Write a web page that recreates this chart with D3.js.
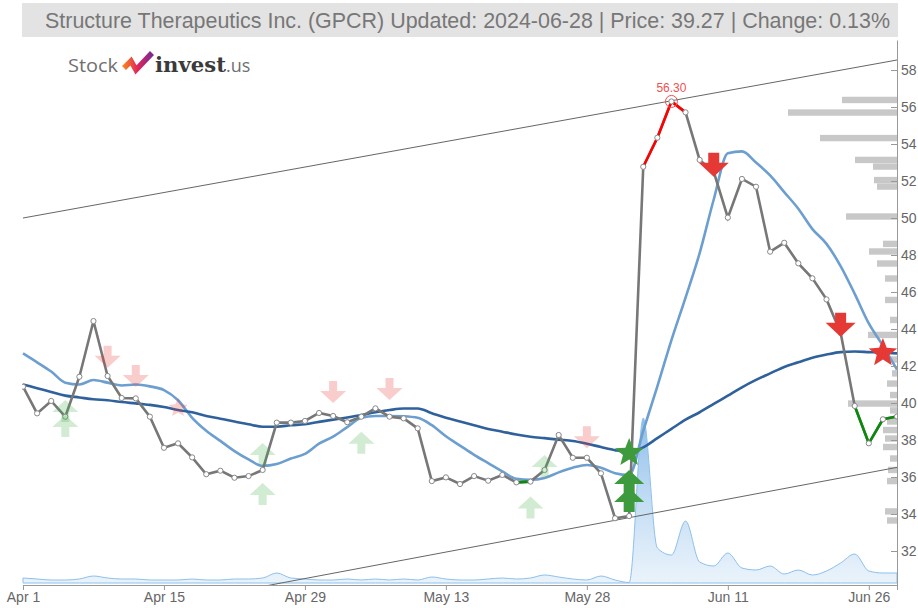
<!DOCTYPE html>
<html>
<head>
<meta charset="utf-8">
<script src="https://cdn.jsdelivr.net/npm/d3@7"></script>
<style>
  html, body { margin: 0; padding: 0; background: #fff; }
  svg { display: block; font-family: "Liberation Sans", Arial, sans-serif; }
  .axis path, .axis line { stroke: #999; }
  .axis text { fill: #666; font-size: 14px; }
</style>
</head>
<body>
<div id="chart"></div>
<script>
// GPCR daily chart, Apr 1 - Jun 28 2024 (trading days)

const tickIdx = [0, 10, 20, 30, 40, 50, 60];
const tickLabels = ["Apr 1", "Apr 15", "Apr 29", "May 13", "May 28", "Jun 11", "Jun 26"];

const close = [
  40.88, 39.44, 40.11, 39.26, 41.42, 44.43, 41.46, 40.27, 40.25, 39.26,
  37.58, 37.82, 37.06, 36.15, 36.34, 35.96, 36.05, 36.38, 38.94, 38.94,
  39.03, 39.46, 39.30, 38.96, 39.26, 39.71, 39.26, 39.17, 38.63, 35.78,
  35.98, 35.62, 36.05, 35.80, 36.11, 35.71, 35.75, 36.38, 38.27, 37.04,
  37.04, 36.20, 33.77, 33.89, 52.77, 54.34, 56.30, 55.71, 53.14, 52.50,
  50.02, 52.11, 51.69, 48.18, 48.66, 47.55, 46.74, 45.60, 43.80, 39.84,
  37.82, 39.12, 39.27
];

const maShort = [
  42.68, 42.20, 41.70, 41.10, 41.00, 41.24, 41.10, 40.95, 41.00, 40.90,
  40.70, 40.15, 39.20, 38.50, 37.95, 37.40, 36.95, 36.60, 36.70, 37.00,
  37.25, 37.80, 38.18, 38.70, 39.20, 39.30, 39.30, 39.28, 39.20, 38.80,
  38.20, 37.70, 37.20, 36.75, 36.30, 35.90, 35.85, 35.95, 36.25, 36.50,
  36.65, 36.50, 36.20, 36.10, 38.50, 40.90, 43.40, 45.70, 48.10, 51.00,
  53.50, 53.60, 53.00, 52.30, 51.40, 50.50, 49.40, 48.60, 47.40, 45.90,
  44.30, 43.10, 41.80
];

const maLong = [
  41.00, 40.80, 40.60, 40.40, 40.30, 40.20, 40.15, 40.05, 39.98, 39.90,
  39.78, 39.62, 39.50, 39.30, 39.15, 39.00, 38.85, 38.72, 38.72, 38.80,
  38.85, 38.98, 39.10, 39.22, 39.35, 39.50, 39.62, 39.70, 39.70, 39.45,
  39.20, 39.00, 38.80, 38.60, 38.45, 38.30, 38.18, 38.10, 38.02, 37.95,
  37.80, 37.62, 37.45, 37.35, 37.60, 38.10, 38.60, 39.10, 39.50, 39.95,
  40.40, 40.85, 41.25, 41.60, 41.95, 42.20, 42.45, 42.62, 42.75, 42.78,
  42.75, 42.72, 42.68
];

// volume, thousands of shares
const volume = [
  500, 400, 300, 300, 400, 700, 500, 400, 400, 300,
  300, 300, 400, 300, 300, 400, 400, 500, 1000, 500,
  400, 300, 300, 400, 300, 400, 300, 400, 300, 600,
  400, 300, 300, 400, 500, 400, 500, 800, 600, 400,
  300, 700, 300, 50, 16500, 3500, 2800, 6200, 2100, 1700,
  3000, 1500, 1300, 1700, 900, 1300, 800, 1200, 2000, 2900,
  1200, 1000, 1000
];

// trend channel, value at first and last day
const channelIdx = [0, 62];
const channelUpper = [50.0, 58.54];
const channelLower = [27.65, 36.52];

// volume by price
const vpPrice = [56.38, 55.70, 54.32, 53.14, 52.78, 52.05, 51.70, 50.08, 48.60, 48.19,
  47.54, 46.73, 45.57, 44.49, 43.68, 42.35, 41.60, 41.05, 40.43, 39.97,
  39.60, 39.00, 38.54, 38.08, 37.62, 37.00, 36.38, 35.78, 34.14, 33.65];
const vpVolume = [55, 109, 77, 42, 24, 23, 20, 51, 14, 28,
  20, 12, 12, 7, 29, 7, 5, 10, 7, 49,
  7, 10, 14, 12, 14, 7, 9, 10, 12, 10];

// colored price segments [from, to]
const redSegments = [[44, 47]];
const greenSegments = [[35, 36], [59, 62]];

// signals: day index and price level
const buyWeak = [[3, 40.16], [3, 39.35], [17, 37.84], [17, 35.68], [24, 38.45], [36, 34.94], [37, 37.19]];
const sellWeak = [[6, 41.90], [8, 40.86], [22, 40.00], [26, 40.16], [40, 37.56]];
const sellWeakStar = [[11, 39.73]];
const buyStrong = [[43, 36.38], [43, 35.40]];
const buyStrongStar = [[43, 37.30]];
const sellStrong = [[49, 52.23], [58, 43.58]];
const sellStrongStar = [[61, 42.70]];

const maxIdx = 46;
const maxLabel = "56.30";

const W = 918, H = 608;
const svg = d3.select("#chart").append("svg").attr("width", W).attr("height", H);

const x = d3.scaleLinear().domain([0, 62]).range([23, 897]);
const y0 = d3.scaleLinear().domain([32, 58]).range([551, 70]);
const y = d3.scaleLinear().domain([y0.invert(586), y0.invert(40)]).range([586, 40]);
const vy = d3.scaleLinear().domain([0, 16500]).range([583, 418]);
const vpW = d3.scaleLinear().domain([0, d3.max(vpVolume)]).range([0, 109]);

svg.append("defs").append("clipPath").attr("id", "plot")
  .append("rect").attr("x", 22).attr("y", 40).attr("width", 875).attr("height", 546);

// title
svg.append("rect").attr("x", 22).attr("y", 3).attr("width", 876).attr("height", 34).attr("fill", "#e3e3e3");
svg.append("text").attr("x", 890).attr("y", 28).attr("text-anchor", "end")
  .attr("fill", "#777").attr("font-size", 22)
  .attr("textLength", 845).attr("lengthAdjust", "spacingAndGlyphs")
  .text("Structure Therapeutics Inc. (GPCR) Updated: 2024-06-28 | Price: 39.27 | Change: 0.13%");

// logo
const grad = svg.select("defs").append("linearGradient").attr("id", "logoGrad");
grad.append("stop").attr("offset", "0%").attr("stop-color", "#f5821f");
grad.append("stop").attr("offset", "50%").attr("stop-color", "#e0245e");
grad.append("stop").attr("offset", "100%").attr("stop-color", "#7b2a8e");
const logo = svg.append("g").attr("font-family", "'Open Sans', 'DejaVu Sans', sans-serif");
logo.append("text").attr("x", 68).attr("y", 72).attr("font-size", 19).attr("fill", "#707070")
  .attr("textLength", 50).attr("lengthAdjust", "spacingAndGlyphs").text("Stock");
logo.append("path").attr("d", "M124,68 L131,61 L136,70 L152,53")
  .attr("fill", "none").attr("stroke", "url(#logoGrad)").attr("stroke-width", 5.5).attr("stroke-linejoin", "miter");
logo.append("text").attr("x", 155).attr("y", 72).attr("font-size", 20).attr("font-weight", "bold").attr("fill", "#3a3a3a")
  .attr("font-family", "'DejaVu Serif', serif")
  .attr("textLength", 71).attr("lengthAdjust", "spacingAndGlyphs").text("invest");
logo.append("text").attr("x", 226).attr("y", 72).attr("font-size", 18).attr("fill", "#707070").text(".us");

const plot = svg.append("g").attr("clip-path", "url(#plot)");

// volume area
const volGrad = svg.select("defs").append("linearGradient").attr("id", "volGrad")
  .attr("x1", 0).attr("x2", 0).attr("y1", 0).attr("y2", 1);
volGrad.append("stop").attr("offset", "0%").attr("stop-color", "#7fb6e8").attr("stop-opacity", 0.9);
volGrad.append("stop").attr("offset", "100%").attr("stop-color", "#dcebf8").attr("stop-opacity", 0.6);
plot.append("path")
  .datum(volume)
  .attr("d", d3.area().x((d, i) => x(i)).y0(vy(0)).y1(d => vy(d)).curve(d3.curveMonotoneX))
  .attr("fill", "url(#volGrad)")
  .attr("stroke", "#8dc0ec").attr("stroke-width", 1);

// volume by price
plot.append("g").selectAll("rect").data(vpPrice).join("rect")
  .attr("x", (d, i) => 897 - vpW(vpVolume[i]))
  .attr("y", d => y(d) - 3.2)
  .attr("width", (d, i) => vpW(vpVolume[i]))
  .attr("height", 6.4)
  .attr("fill", "#c8c8c8");

// trend channel
[channelUpper, channelLower].forEach(c => {
  plot.append("line")
    .attr("x1", x(channelIdx[0])).attr("y1", y(c[0]))
    .attr("x2", x(channelIdx[1])).attr("y2", y(c[1]))
    .attr("stroke", "#666").attr("stroke-width", 1);
});

// moving averages
const maLine = d3.line().x((d, i) => x(i)).y(d => y(d)).curve(d3.curveMonotoneX);
plot.append("path").datum(maShort).attr("d", maLine)
  .attr("fill", "none").attr("stroke", "#6c9fd0").attr("stroke-width", 2.6);
plot.append("path").datum(maLong).attr("d", maLine)
  .attr("fill", "none").attr("stroke", "#2f629c").attr("stroke-width", 2.6);

// signal shapes
function arrowPath(headW, headH, stemW, stemH) {
  const hw = headW / 2, sw = stemW / 2;
  // up arrow with its tip at 0,0
  return `M0,0 L${hw},${headH} L${sw},${headH} L${sw},${headH + stemH} L${-sw},${headH + stemH} L${-sw},${headH} L${-hw},${headH} Z`;
}
function starPath(ro, ri) {
  const pts = [];
  for (let k = 0; k < 10; k++) {
    const r = k % 2 ? ri : ro;
    const a = -Math.PI / 2 + k * Math.PI / 5;
    pts.push([r * Math.cos(a), r * Math.sin(a)]);
  }
  return "M" + pts.map(p => p.join(",")).join("L") + "Z";
}
const weakArrow = arrowPath(26, 12, 8, 10);
const strongArrow = arrowPath(30, 14, 11, 10);

const sig = svg.append("g");
sig.selectAll(".bw").data(buyWeak).join("path")
  .attr("d", weakArrow).attr("transform", d => `translate(${x(d[0])},${y(d[1])})`)
  .attr("fill", "#4caf50").attr("opacity", 0.25);
sig.selectAll(".sw").data(sellWeak).join("path")
  .attr("d", weakArrow).attr("transform", d => `translate(${x(d[0])},${y(d[1])}) rotate(180)`)
  .attr("fill", "#e53935").attr("opacity", 0.25);
sig.selectAll(".sws").data(sellWeakStar).join("path")
  .attr("d", starPath(10, 4.5)).attr("transform", d => `translate(${x(d[0])},${y(d[1])})`)
  .attr("fill", "#e53935").attr("opacity", 0.25);

// price line
const priceLine = d3.line().x(d => x(d[0])).y(d => y(d[1]));
const pts = close.map((v, i) => [i, v]);
plot.append("path").datum(pts).attr("d", priceLine)
  .attr("fill", "none").attr("stroke", "#777").attr("stroke-width", 2.6);
redSegments.forEach(s => {
  plot.append("path").datum(pts.slice(s[0], s[1] + 1)).attr("d", priceLine)
    .attr("fill", "none").attr("stroke", "#f00").attr("stroke-width", 2.6);
});
greenSegments.forEach(s => {
  plot.append("path").datum(pts.slice(s[0], s[1] + 1)).attr("d", priceLine)
    .attr("fill", "none").attr("stroke", "#0a8a0a").attr("stroke-width", 2.6);
});
plot.append("g").selectAll("circle").data(pts).join("circle")
  .attr("cx", d => x(d[0])).attr("cy", d => y(d[1])).attr("r", 2.6)
  .attr("fill", "#fff").attr("stroke", "#888").attr("stroke-width", 1);

// max marker
svg.append("circle").attr("cx", x(maxIdx)).attr("cy", y(close[maxIdx])).attr("r", 6)
  .attr("fill", "none").attr("stroke", "#f05050").attr("stroke-width", 1);
svg.append("text").attr("x", x(maxIdx)).attr("y", y(close[maxIdx]) - 9)
  .attr("text-anchor", "middle").attr("font-size", 12).attr("fill", "#f05050").text(maxLabel);

// strong signals
sig.append("g").selectAll("path").data(buyStrong).join("path")
  .attr("d", strongArrow).attr("transform", d => `translate(${x(d[0])},${y(d[1])})`)
  .attr("fill", "#3d9a3d");
sig.append("g").selectAll("path").data(buyStrongStar).join("path")
  .attr("d", starPath(15, 6.5)).attr("transform", d => `translate(${x(d[0])},${y(d[1])})`)
  .attr("fill", "#3d9a3d");
sig.append("g").selectAll("path").data(sellStrong).join("path")
  .attr("d", strongArrow).attr("transform", d => `translate(${x(d[0])},${y(d[1])}) rotate(180)`)
  .attr("fill", "#e53935");
sig.append("g").selectAll("path").data(sellStrongStar).join("path")
  .attr("d", starPath(15, 6.5)).attr("transform", d => `translate(${x(d[0])},${y(d[1])})`)
  .attr("fill", "#e53935");
svg.node().appendChild(sig.node());

// axes
svg.append("g").attr("class", "axis").attr("transform", "translate(897,0)")
  .call(d3.axisRight(y).tickValues(d3.range(32, 59, 2)).tickSizeInner(-6).tickSizeOuter(0).tickPadding(4));
svg.append("g").attr("class", "axis").attr("transform", "translate(0,585)")
  .call(d3.axisBottom(x).tickValues(tickIdx).tickFormat((d, i) => tickLabels[i]).tickSizeOuter(0).tickSize(5).tickPadding(2));
svg.selectAll(".axis .domain").attr("stroke", "#999");
</script>
</body>
</html>
